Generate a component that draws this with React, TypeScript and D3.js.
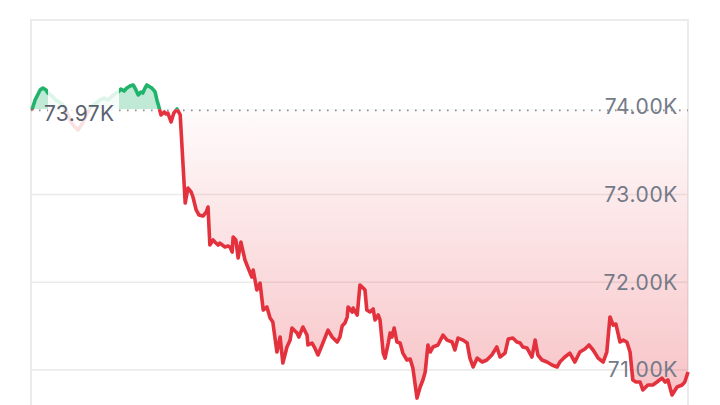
import React from "react";
import * as d3 from "d3";

// minutes since start of the 24h window
const times = [
  2, 9, 20, 26, 33, 37, 46, 55, 68, 77, 85, 94, 103, 112, 121, 129, 140, 151, 160, 169,
  178, 186, 191, 197, 204, 210, 217, 224, 230, 235, 241, 245, 250, 254, 261, 265, 272, 276, 281, 285,
  292, 296, 300, 307, 313, 320, 327, 338, 344, 351, 355, 362, 368, 377, 384, 388, 392, 399, 403, 410,
  414, 425, 432, 436, 441, 443, 449, 454, 460, 469, 476, 484, 487, 495, 502, 509, 517, 524, 530, 539,
  546, 552, 561, 568, 572, 583, 587, 596, 605, 607, 616, 622, 629, 638, 651, 660, 671, 677, 682, 688,
  693, 695, 704, 706, 715, 721, 728, 732, 736, 743, 750, 754, 761, 765, 772, 776, 783, 787, 791, 796,
  802, 809, 815, 824, 831, 837, 846, 853, 859, 864, 870, 875, 881, 892, 903, 912, 923, 929, 936, 947,
  956, 962, 969, 978, 989, 999, 1010, 1021, 1028, 1039, 1046, 1056, 1065, 1072, 1078, 1087, 1098, 1105, 1111, 1120,
  1131, 1142, 1153, 1159, 1170, 1181, 1192, 1203, 1214, 1223, 1232, 1243, 1254, 1262, 1269, 1276, 1282, 1291, 1298, 1306,
  1313, 1319, 1326, 1335, 1341, 1352, 1363, 1372, 1383, 1390, 1396, 1405, 1416, 1427, 1433, 1440,
];

const prices = [
  73963, 74077, 74191, 74213, 74191, 74156, 74122, 74077, 74031, 73963, 73849, 73780, 73735, 73803, 73906, 73985, 74031, 74077, 74099, 74077,
  74122, 74156, 74168, 74202, 74179, 74213, 74236, 74248, 74191, 74134, 74168, 74156, 74213, 74248, 74225, 74213, 74168, 74077, 73985, 73906,
  73940, 73917, 73928, 73826, 73928, 73974, 73906, 72902, 73073, 73028, 72971, 72823, 72766, 72754, 72800, 72857, 72424, 72481, 72458, 72424,
  72446, 72401, 72412, 72401, 72344, 72515, 72481, 72275, 72458, 72253, 72161, 72059, 72139, 71911, 71990, 71683, 71717, 71591, 71546, 71204,
  71375, 71078, 71261, 71340, 71477, 71420, 71375, 71489, 71397, 71284, 71306, 71250, 71170, 71284, 71454, 71375, 71318, 71375, 71500, 71534,
  71603, 71717, 71660, 71705, 71626, 71968, 71933, 71911, 71683, 71660, 71694, 71569, 71626, 71569, 71192, 71135, 71306, 71420, 71375, 71477,
  71318, 71306, 71192, 71113, 71124, 71021, 70679, 70805, 70885, 70976, 71284, 71204, 71261, 71284, 71397, 71340, 71318, 71227, 71363, 71340,
  71306, 71135, 71033, 71135, 71090, 71113, 71170, 71261, 71147, 71192, 71352, 71363, 71318, 71306, 71261, 71250, 71147, 71340, 71170, 71113,
  71090, 71056, 71033, 71090, 71147, 71192, 71090, 71204, 71238, 71284, 71227, 71135, 71090, 71204, 71603, 71511, 71523, 71318, 71340, 71318,
  71204, 70885, 70862, 70862, 70771, 70828, 70828, 70862, 70907, 70862, 70885, 70714, 70805, 70828, 70862, 70976,
];

const yTicks = [74000, 73000, 72000, 71000];
const baseline = 73970;
const baselineLabel = "73.97K";

const W = 720;
const H = 405;

export default function App() {
  const x = d3.scaleLinear().domain([0, 1440]).range([31, 688]);
  const y = d3.scaleLinear().domain([70600, 75000]).range([405, 19]);
  const data = times.map((t, i) => ({ t, v: prices[i] }));
  const by = y(baseline);

  const line = d3
    .line<{ t: number; v: number }>()
    .x((d) => x(d.t))
    .y((d) => y(d.v))
    .curve(d3.curveLinear);
  const area = d3
    .area<{ t: number; v: number }>()
    .x((d) => x(d.t))
    .y0(by)
    .y1((d) => y(d.v));

  const lineD = line(data) || "";
  const areaD = area(data) || "";
  const fmt = (v: number) => (v / 1000).toFixed(2) + "K";
  const font = "Inter, 'Noto Sans', sans-serif";

  return (
    <svg
      width={W}
      height={H}
      viewBox={`0 0 ${W} ${H}`}
      style={{ position: "absolute", left: 0, top: 0, background: "#fff" }}
    >
      <defs>
        <clipPath id="above">
          <rect x={0} y={0} width={W} height={by} />
        </clipPath>
        <clipPath id="below">
          <rect x={0} y={by} width={W} height={H - by} />
        </clipPath>
        <linearGradient id="redGrad" x1="0" y1={by} x2="0" y2={H} gradientUnits="userSpaceOnUse">
          <stop offset="0" stopColor="#e5323e" stopOpacity={0.02} />
          <stop offset="1" stopColor="#e5323e" stopOpacity={0.3} />
        </linearGradient>
      </defs>

      {/* frame */}
      <path d={`M31,${H} L31,20 L688,20 L688,${H}`} fill="none" stroke="#ebebeb" strokeWidth={2} />

      {/* grid */}
      {yTicks
        .filter((v) => v !== 74000)
        .map((v) => (
          <line key={v} x1={31} x2={688} y1={y(v)} y2={y(v)} stroke="#ebebeb" strokeWidth={1.6} />
        ))}

      {/* areas */}
      <path d={areaD} fill="#1fb36b" fillOpacity={0.28} clipPath="url(#above)" />
      <path d={areaD} fill="url(#redGrad)" clipPath="url(#below)" />

      {/* tick labels */}
      {yTicks.map((v) => (
        <text
          key={v}
          x={678}
          y={y(v)}
          dy="0.36em"
          textAnchor="end"
          fontFamily={font}
          fontSize={21}
          letterSpacing={0.6}
          fill="#747a88"
        >
          {fmt(v)}
        </text>
      ))}

      {/* baseline */}
      <line
        x1={31}
        x2={688}
        y1={by + 1}
        y2={by + 1}
        stroke="#8e8e8e"
        strokeWidth={1.6}
        strokeDasharray="1.6 6.4"
      />

      {/* line */}
      <path d={lineD} fill="none" stroke="#1fb36b" strokeWidth={3.6} strokeLinejoin="round" clipPath="url(#above)" />
      <path d={lineD} fill="none" stroke="#e3323e" strokeWidth={3.6} strokeLinejoin="round" clipPath="url(#below)" />

      {/* baseline label */}
      <rect x={48} y={80} width={71} height={60} fill="#fff" fillOpacity={0.85} />
      <text x={44} y={by + 4} dy="0.36em" fontFamily={font} fontSize={21} letterSpacing={0.3} fill="#5b6272">
        {baselineLabel}
      </text>
    </svg>
  );
}
